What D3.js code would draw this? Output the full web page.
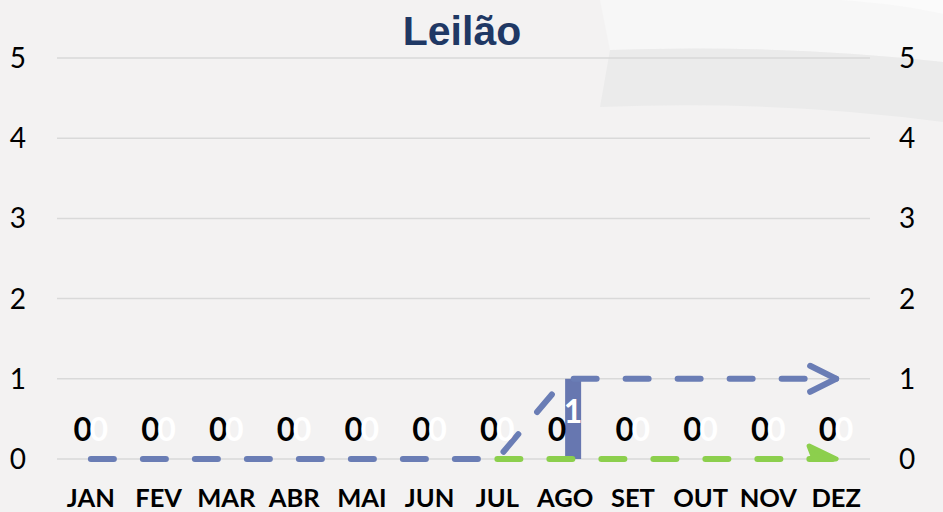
<!DOCTYPE html>
<html>
<head>
<meta charset="utf-8">
<script src="https://cdn.jsdelivr.net/npm/d3@7"></script>
<style>
  body { margin: 0; background: #f3f2f2; }
  svg { display: block; }
</style>
</head>
<body>
<svg id="chart" width="943" height="512"></svg>
<script>
// values
const months = ["JAN", "FEV", "MAR", "ABR", "MAI", "JUN", "JUL", "AGO", "SET", "OUT", "NOV", "DEZ"];
const barsA = [0, 0, 0, 0, 0, 0, 0, 0, 0, 0, 0, 0];   // black labels
const barsB = [0, 0, 0, 0, 0, 0, 0, 1, 0, 0, 0, 0];   // white labels
const lineBlue = [0, 0, 0, 0, 0, 0, 0, 1, 1, 1, 1, 1];
const lineGreen = [null, null, null, null, null, null, 0, 0, 0, 0, 0, 0];
const yTicks = [0, 1, 2, 3, 4, 5];
const title = "Leilão";

const blue = "#6a7db5";
const barBlue = "#6777b0";
const green = "#8ccf4d";

const svg = d3.select("#chart");

// background swoosh
svg.append("rect").attr("width", 943).attr("height", 512).attr("fill", "#f3f2f2");
svg.append("path")
	.attr("d", "M600,0 L943,0 L943,62 Q780,44 610,50 Z")
	.attr("fill", "#f7f7f7");
svg.append("path")
	.attr("d", "M840,0 Q900,4 943,14 L943,0 Z")
	.attr("fill", "#fbfbfb");
svg.append("path")
	.attr("d", "M610,50 Q780,44 943,62 L943,122 Q780,100 600,107 Z")
	.attr("fill", "#ebebeb");

const x = d3.scaleBand().domain(months).range([57, 870]).padding(0);
const sub = d3.scaleBand().domain(["a", "b"]).range([-16, 16]).padding(0);
const y = d3.scaleLinear().domain([0, 5]).range([459, 58]);
const cx = m => x(m) + x.bandwidth() / 2;

// grid
svg.append("g").selectAll("line")
	.data(yTicks)
	.join("line")
	.attr("x1", 57).attr("x2", 870)
	.attr("y1", d => y(d)).attr("y2", d => y(d))
	.attr("stroke", "#d9d9d9").attr("stroke-width", 1.5);

// y tick labels, both sides
const tickFont = "Lato, 'Open Sans', sans-serif";
svg.append("g").selectAll("text")
	.data(yTicks)
	.join("text")
	.attr("x", 26).attr("y", d => y(d) + 10)
	.attr("text-anchor", "end")
	.attr("font-family", tickFont).attr("font-size", 28)
	.attr("fill", "#000")
	.text(d => d);
svg.append("g").selectAll("text")
	.data(yTicks)
	.join("text")
	.attr("x", 899).attr("y", d => y(d) + 10)
	.attr("font-family", tickFont).attr("font-size", 28)
	.attr("fill", "#000")
	.text(d => d);

// month labels
svg.append("g").selectAll("text")
	.data(months)
	.join("text")
	.attr("x", d => cx(d)).attr("y", 507)
	.attr("text-anchor", "middle")
	.attr("font-family", tickFont).attr("font-weight", "bold").attr("font-size", 25.5)
	.attr("fill", "#000")
	.text(d => d);

// bars
const barData = [];
months.forEach((m, i) => {
	barData.push({ m: m, s: "a", v: barsA[i] });
	barData.push({ m: m, s: "b", v: barsB[i] });
});
svg.append("g").selectAll("rect")
	.data(barData)
	.join("rect")
	.attr("x", d => cx(d.m) + sub(d.s))
	.attr("width", sub.bandwidth())
	.attr("y", d => y(d.v))
	.attr("height", d => y(0) - y(d.v))
	.attr("fill", barBlue);

// arrow markers
const defs = svg.append("defs");
defs.append("marker")
	.attr("id", "arrowBlue")
	.attr("markerUnits", "userSpaceOnUse")
	.attr("viewBox", "-32 -18 40 36")
	.attr("markerWidth", 40).attr("markerHeight", 36)
	.attr("refX", 0).attr("refY", 0)
	.attr("orient", "auto")
	.append("path")
	.attr("d", "M-26,-13 L0,0 L-26,13")
	.attr("fill", "none").attr("stroke", blue)
	.attr("stroke-width", 6).attr("stroke-linecap", "round").attr("stroke-linejoin", "round");
defs.append("marker")
	.attr("id", "arrowGreen")
	.attr("markerUnits", "userSpaceOnUse")
	.attr("viewBox", "-34 -20 42 28")
	.attr("markerWidth", 42).attr("markerHeight", 28)
	.attr("refX", 0).attr("refY", 0)
	.attr("orient", "auto")
	.append("path")
	.attr("d", "M-27,-13 L0,0 L-22,0 Z")
	.attr("fill", green).attr("stroke", green)
	.attr("stroke-width", 5).attr("stroke-linecap", "round").attr("stroke-linejoin", "round");

const line = d3.line()
	.defined(d => d.v !== null)
	.x(d => cx(d.m))
	.y(d => y(d.v));

svg.append("path")
	.datum(months.map((m, i) => ({ m: m, v: lineGreen[i] })).filter(d => d.v !== null))
	.attr("d", line)
	.attr("fill", "none").attr("stroke", green)
	.attr("stroke-width", 6).attr("stroke-linecap", "round")
	.attr("stroke-dasharray", "23,29")
	.attr("marker-end", "url(#arrowGreen)");

svg.append("path")
	.datum(months.map((m, i) => ({ m: m, v: lineBlue[i] })))
	.attr("d", line)
	.attr("fill", "none").attr("stroke", blue)
	.attr("stroke-width", 6).attr("stroke-linecap", "round")
	.attr("stroke-dasharray", "23,29")
	.attr("marker-end", "url(#arrowBlue)");

// data labels
const labelFont = "Lato, 'Open Sans', sans-serif";
svg.append("g").selectAll("text")
	.data(barData)
	.join("text")
	.attr("x", d => cx(d.m) + sub(d.s) + sub.bandwidth() / 2)
	.attr("y", d => d.v > 0 ? y(d.v / 2) + 4 : y(0) - 18)
	.attr("text-anchor", "middle")
	.attr("font-family", labelFont).attr("font-weight", "bold").attr("font-size", 32)
	.attr("fill", d => d.s === "a" ? "#000" : "#fff")
	.text(d => d.v);

// title
svg.append("text")
	.attr("x", 462).attr("y", 45)
	.attr("text-anchor", "middle")
	.attr("font-family", "'Liberation Sans', Arial, sans-serif")
	.attr("font-weight", "bold").attr("font-size", 41)
	.attr("fill", "#1f3864")
	.text(title);
</script>
</body>
</html>
